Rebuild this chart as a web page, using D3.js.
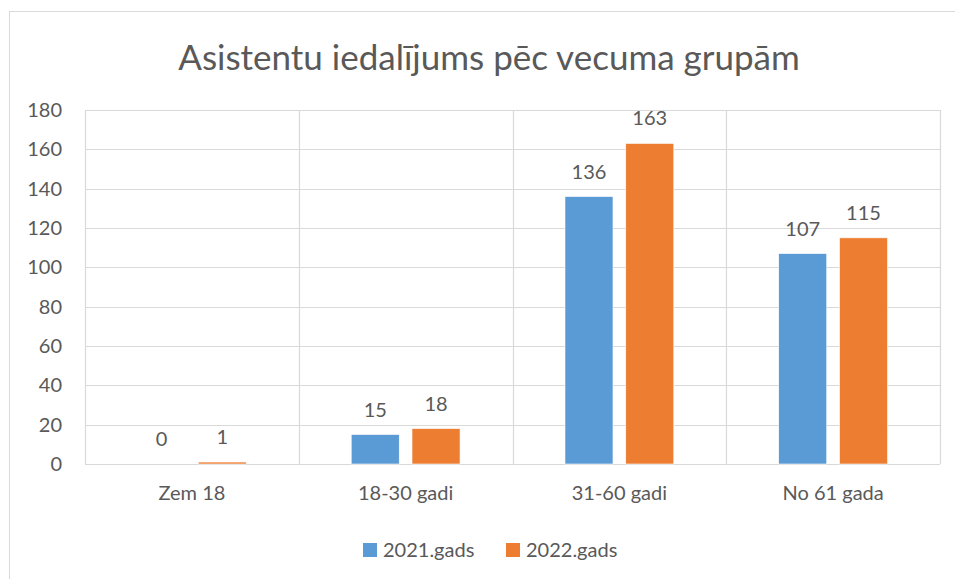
<!DOCTYPE html>
<html><head><meta charset="utf-8">
<script src="https://cdn.jsdelivr.net/npm/d3@7"></script>
<style>body{margin:0;background:#fff;} svg{display:block;} text{font-family:Lato,"Open Sans",sans-serif;fill:#595959;}</style>
</head><body>
<svg id="c" width="955" height="579"></svg>
<script>
const title = "Asistentu iedalījums pēc vecuma grupām";
const categories = ["Zem 18", "18-30 gadi", "31-60 gadi", "No 61 gada"];
const seriesNames = ["2021.gads", "2022.gads"];
const values2021 = [0, 15, 136, 107];
const values2022 = [1, 18, 163, 115];
const yTicks = [0, 20, 40, 60, 80, 100, 120, 140, 160, 180];
const colors = ["#5B9BD5", "#ED7D31"];

const svg = d3.select("#c");
const m = {l: 85, r: 940, t: 110, b: 464};
const fs = 20;

svg.append("rect").attr("x", 9.5).attr("y", 11.5).attr("width", 980).attr("height", 600)
  .attr("fill", "#fff").attr("stroke", "#d9d9d9").attr("stroke-width", 1);

const x0 = d3.scaleBand().domain(categories).range([m.l, m.r]).padding(0);
const x1 = d3.scaleBand().domain(seriesNames).range([0, x0.bandwidth()]).paddingInner(0.21).paddingOuter(0.863);
const y = d3.scaleLinear().domain([0, 180]).range([m.b, m.t]);

svg.append("g").selectAll("line").data(yTicks).join("line")
  .attr("x1", m.l).attr("x2", m.r).attr("y1", d => Math.round(y(d)) + 0.5).attr("y2", d => Math.round(y(d)) + 0.5)
  .attr("stroke", "#d9d9d9").attr("stroke-width", 1.2);
const seps = categories.map(c => x0(c)).concat([m.r]);
svg.append("g").selectAll("line").data(seps).join("line")
  .attr("x1", d => Math.round(d) + 0.5).attr("x2", d => Math.round(d) + 0.5).attr("y1", m.t).attr("y2", m.b)
  .attr("stroke", "#d9d9d9").attr("stroke-width", 1.2);

const yAxis = d3.axisLeft(y).tickValues(yTicks).tickSize(0).tickPadding(0);
const ya = svg.append("g").attr("transform", `translate(62,0)`).call(yAxis);
ya.select(".domain").remove();
ya.selectAll("text").attr("font-size", fs).style("font-family", "Lato,'Open Sans',sans-serif").attr("fill", "#595959");

const xAxis = d3.axisBottom(x0).tickSize(0).tickPadding(0);
const xa = svg.append("g").attr("transform", `translate(0,486)`).call(xAxis);
xa.select(".domain").remove();
xa.selectAll("text").attr("font-size", fs).style("font-family", "Lato,'Open Sans',sans-serif").attr("fill", "#595959");

const rows = categories.map((c, i) => ({cat: c, vals: [values2021[i], values2022[i]]}));
const g = svg.append("g").selectAll("g").data(rows).join("g")
  .attr("transform", d => `translate(${x0(d.cat)},0)`);
g.selectAll("rect").data(d => d.vals.map((v, j) => ({s: seriesNames[j], v, j}))).join("rect")
  .attr("x", d => x1(d.s)).attr("width", x1.bandwidth())
  .attr("y", d => y(d.v)).attr("height", d => y(0) - y(d.v))
  .attr("fill", d => colors[d.j]).attr("stroke", "#fff").attr("stroke-width", 0.6);
g.selectAll("text").data(d => d.vals.map((v, j) => ({s: seriesNames[j], v, j}))).join("text")
  .attr("x", d => x1(d.s) + x1.bandwidth() / 2).attr("y", d => y(d.v) - 18)
  .attr("text-anchor", "middle").attr("font-size", fs).text(d => d.v);

svg.append("text").attr("x", 489).attr("y", 70).attr("text-anchor", "middle")
  .attr("font-size", 35).text(title);

const legX = [363, 506];
const lg = svg.append("g").selectAll("g").data(seriesNames).join("g")
  .attr("transform", (d, i) => `translate(${legX[i]},543)`);
lg.append("rect").attr("width", 14).attr("height", 14).attr("fill", (d, i) => colors[i]);
lg.append("text").attr("x", 20).attr("y", 14).attr("font-size", fs).text(d => d);
</script>
</body></html>
